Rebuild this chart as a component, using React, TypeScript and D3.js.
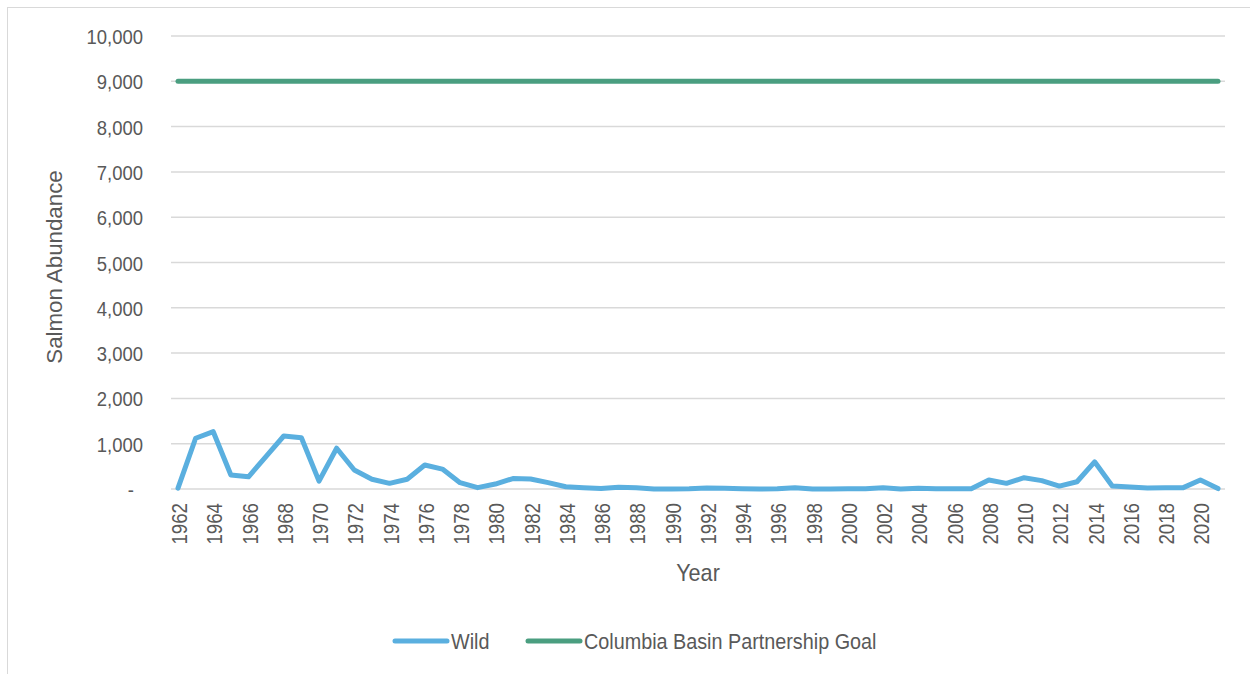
import React from "react";
import * as d3 from "d3";

const years: number[] = d3.range(1962, 2022);
const wild: number[] = [
  20, 1120, 1265, 310, 270, 720, 1170, 1130, 175, 900,
  420, 215, 125, 215, 530, 440, 140, 30, 110, 230,
  220, 140, 50, 30, 10, 40, 30, 0, 0, 5,
  20, 15, 5, 0, 5, 30, 0, 0, 5, 5,
  30, 0, 15, 5, 5, 5, 200, 125, 250, 185,
  65, 160, 600, 65, 45, 20, 25, 25, 200, 10,
];
const goal: number[] = years.map(() => 9000);
const yTicks: number[] = d3.range(0, 10001, 1000);
const xTickYears: number[] = d3.range(1962, 2021, 2);
const seriesNames = ["Wild", "Columbia Basin Partnership Goal"];
const seriesColors = ["#5aafdf", "#4a9e80"];

const FONT = "'Liberation Sans', Arial, sans-serif";
const TXT = "#595959";

export default function App() {
  const W = 1250, H = 674;
  const x = d3.scaleLinear().domain([1962, 2021]).range([178, 1218]);
  const y = d3.scaleLinear().domain([0, 10000]).range([489, 36]);
  const line = d3.line<number>().x((_, i) => x(years[i])).y((v) => y(v));
  const fmt = d3.format(",");
  return (
    <svg width={W} height={H} style={{ position: "absolute", left: 0, top: 0, background: "#fff" }}>
      <rect x={7.5} y={7.5} width={1300} height={700} fill="#fff" stroke="#d9d9d9" strokeWidth={1} />
      {yTicks.map((t) => (
        <line key={t} x1={171} x2={1225} y1={y(t)} y2={y(t)} stroke="#d9d9d9" strokeWidth={1.5} />
      ))}
      {yTicks.map((t) => (
        <text key={"l" + t} transform={`translate(${t === 0 ? 134 : 143},${y(t) + 8}) scale(0.88,1)`}
          textAnchor="end" fontFamily={FONT} fontSize={21} fill={TXT}>
          {t === 0 ? "-" : fmt(t)}
        </text>
      ))}
      {xTickYears.map((yr) => (
        <text key={yr} transform={`translate(${x(yr) + 9},503) rotate(-90) scale(0.85,1)`} textAnchor="end"
          fontFamily={FONT} fontSize={22} fill={TXT}>
          {yr}
        </text>
      ))}
      <text transform="translate(698,581) scale(0.9,1)" textAnchor="middle" fontFamily={FONT} fontSize={24} fill={TXT}>Year</text>
      <text transform="translate(62,267) rotate(-90) scale(0.97,1)" textAnchor="middle" fontFamily={FONT} fontSize={23} fill={TXT}>
        Salmon Abundance
      </text>
      <path d={line(goal) ?? ""} fill="none" stroke={seriesColors[1]} strokeWidth={5} strokeLinecap="round" />
      <path d={line(wild) ?? ""} fill="none" stroke={seriesColors[0]} strokeWidth={5} strokeLinejoin="round" strokeLinecap="round" />
      <g>
        <line x1={395} x2={447} y1={641} y2={641} stroke={seriesColors[0]} strokeWidth={5} strokeLinecap="round" />
        <text transform="translate(451,649) scale(0.9,1)" fontFamily={FONT} fontSize={22} fill={TXT}>{seriesNames[0]}</text>
        <line x1={528} x2={580} y1={641} y2={641} stroke={seriesColors[1]} strokeWidth={5} strokeLinecap="round" />
        <text transform="translate(584,649) scale(0.9,1)" fontFamily={FONT} fontSize={22} fill={TXT}>{seriesNames[1]}</text>
      </g>
    </svg>
  );
}
